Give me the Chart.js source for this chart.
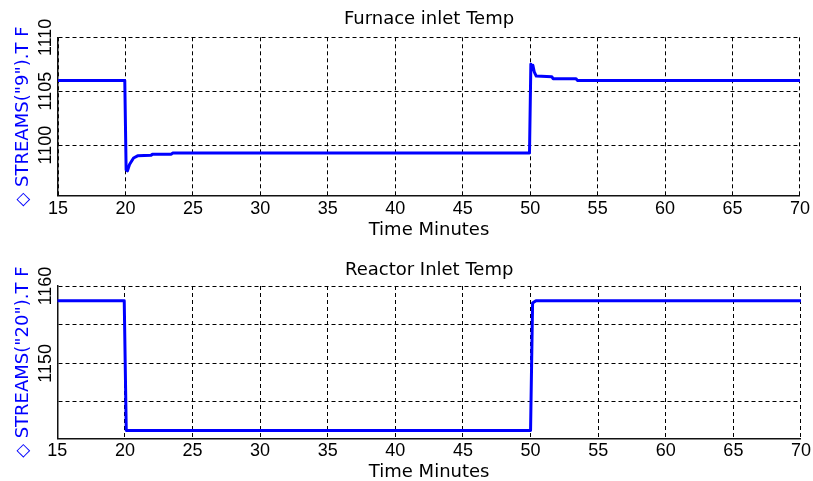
<!DOCTYPE html>
<html>
<head>
<meta charset="utf-8">
<script src="https://cdn.jsdelivr.net/npm/chart.js@4.4.1/dist/chart.umd.min.js"></script>
<style>
  html, body { margin: 0; padding: 0; background: #fff; overflow: hidden; }
  canvas { position: absolute; left: 0; }
  #furnace { top: 0; }
  #reactor { top: 250px; }
</style>
</head>
<body>
<canvas id="furnace" width="813" height="250"></canvas>
<canvas id="reactor" width="813" height="231"></canvas>
<script>
// time axis ticks (minutes)
var timeTicks = [15, 20, 25, 30, 35, 40, 45, 50, 55, 60, 65, 70];

// Furnace inlet temperature, STREAMS("9").T F
var furnaceTime = [15, 19.95, 20.05, 20.15, 20.3, 20.6, 20.9, 21.9, 22.0, 23.4, 23.5,
                   49.95, 50.05, 50.15, 50.2, 50.3, 50.45, 51.6, 51.7, 53.4, 53.5, 70];
var furnaceTemp = [1106.0, 1106.0, 1097.7, 1097.6, 1098.2, 1098.8, 1099.0, 1099.05, 1099.15, 1099.15, 1099.26,
                   1099.26, 1107.5, 1107.0, 1107.4, 1106.8, 1106.4, 1106.35, 1106.15, 1106.15, 1106.0, 1106.0];
var furnaceTicks = [1100, 1105, 1110];
var furnaceLabels = ['1100', '1105', '1110'];

// Reactor inlet temperature, STREAMS("20").T F
var reactorTime = [15, 19.95, 20.1, 50.0, 50.15, 50.4, 70];
var reactorTemp = [1158.1, 1158.1, 1141.3, 1141.3, 1157.8, 1158.1, 1158.1];
var reactorTicks = [1145, 1150, 1155, 1160];
var reactorLabels = ['', '1150', '', '1160'];

Chart.defaults.color = '#000';
Chart.defaults.font.family = '"Liberation Sans", Arial, sans-serif';

function toPoints(xs, ys) {
    return xs.map(function (x, i) { return {x: x, y: ys[i]}; });
}

function makeChart(id, o) {
    var ctx = document.getElementById(id).getContext('2d');
    return new Chart(ctx, {
        type: 'line',
        data: {
            datasets: [{
                data: toPoints(o.xs, o.ys),
                borderColor: '#0000ff',
                borderWidth: 3,
                borderJoinStyle: 'round',
                pointRadius: 0,
                tension: 0,
                fill: false
            }]
        },
        options: {
            responsive: false,
            animation: false,
            layout: { padding: { left: 0, right: o.padRight, top: 0, bottom: 0 } },
            plugins: {
                legend: { display: false },
                tooltip: { enabled: false },
                title: {
                    display: true,
                    text: o.title,
                    fullSize: false,
                    font: { family: '"DejaVu Sans", sans-serif', size: 18, weight: 'normal' },
                    padding: o.titlePad
                }
            },
            scales: {
                x: {
                    type: 'linear',
                    min: timeTicks[0],
                    max: timeTicks[timeTicks.length - 1],
                    afterBuildTicks: function (scale) {
                        scale.ticks = timeTicks.map(function (v) { return {value: v}; });
                    },
                    ticks: {
                        autoSkip: false,
                        maxRotation: 0,
                        padding: o.xTickPad,
                        font: { size: 18 },
                        callback: function (v) { return String(v); }
                    },
                    grid: { color: '#000', lineWidth: 1, drawTicks: false },
                    border: { color: '#111', width: 1.5, dash: [4, 3] },
                    title: {
                        display: true,
                        text: 'Time Minutes',
                        font: { family: '"DejaVu Sans", sans-serif', size: 18 },
                        padding: { top: 0, bottom: o.xTitlePad }
                    },
                    afterFit: function (scale) { scale.height = o.xHeight; }
                },
                y: {
                    min: o.yMin,
                    max: o.yMax,
                    afterBuildTicks: function (scale) {
                        scale.ticks = o.yTicks.map(function (v) { return {value: v}; });
                    },
                    ticks: {
                        autoSkip: false,
                        minRotation: 90,
                        maxRotation: 90,
                        crossAlign: 'center',
                        padding: o.yTickPad,
                        font: { size: 18 },
                        callback: function (v, i) { return o.yLabels[i]; }
                    },
                    grid: { color: '#000', lineWidth: 1, drawTicks: false },
                    border: { color: '#111', width: 1.5, dash: [4, 3] },
                    title: {
                        display: true,
                        text: o.yTitle,
                        color: '#0000ff',
                        font: { family: '"DejaVu Sans", sans-serif', size: 18 },
                        padding: { top: 13, bottom: 0 }
                    },
                    afterFit: function (scale) { scale.width = o.yWidth; }
                }
            }
        }
    });
}

var furnaceChart = makeChart('furnace', {
    xs: furnaceTime, ys: furnaceTemp,
    yTicks: furnaceTicks, yLabels: furnaceLabels,
    title: 'Furnace inlet Temp',
    yTitle: '\u25C7 STREAMS("9").T F',
    yMin: 1095.3, yMax: 1110,
    titlePad: { top: 9, bottom: 6.7 },
    padRight: 11.3, yWidth: 58, xHeight: 54.3,
    xTickPad: 3, xTitlePad: 8.7, yTickPad: -7
});

var reactorChart = makeChart('reactor', {
    xs: reactorTime, ys: reactorTemp,
    yTicks: reactorTicks, yLabels: reactorLabels,
    title: 'Reactor Inlet Temp',
    yTitle: '\u25C7 STREAMS("20").T F',
    yMin: 1140.3, yMax: 1160,
    titlePad: { top: 10, bottom: 4.4 },
    padRight: 11, yWidth: 57.3, xHeight: 42.7,
    xTickPad: 2, xTitlePad: -2.3, yTickPad: -8.5
});
</script>
</body>
</html>
